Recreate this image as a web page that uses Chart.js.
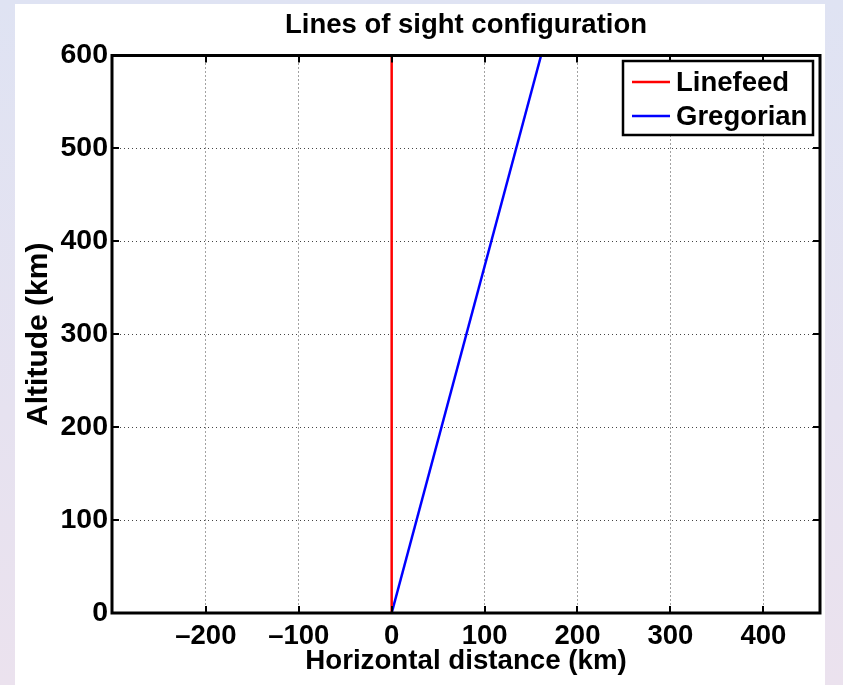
<!DOCTYPE html>
<html>
<head>
<meta charset="utf-8">
<script src="https://cdn.jsdelivr.net/npm/chart.js@4/dist/chart.umd.min.js"></script>
<style>
  html, body { margin: 0; padding: 0; }
  body {
    width: 843px; height: 685px; overflow: hidden;
    background: linear-gradient(180deg, #dfe3f3 0%, #e6e2f0 60%, #ebe2ee 100%);
    position: relative;
  }
  #panel {
    position: absolute; left: 15px; top: 4px;
    width: 810px; height: 681px; background: #fff;
  }
</style>
</head>
<body>
<div id="panel"><canvas id="losChart" width="810" height="681"></canvas></div>
<script>
// lines of sight: altitude vs horizontal offset
var altitude = [0, 600];
var linefeedX = [0, 0];
var gregorianX = [0, 160.8];

var seriesLabels = ['Linefeed', 'Gregorian'];
var seriesColors = ['#ff0000', '#0000ff'];

var xTicks = [-200, -100, 0, 100, 200, 300, 400];
var yTicks = [0, 100, 200, 300, 400, 500, 600];

var FONT = 'Liberation Sans, Arial, Helvetica, sans-serif';

function pts(xs, ys) {
    var out = [];
    for (var i = 0; i < xs.length; i++) out.push({ x: xs[i], y: ys[i] });
    return out;
}

// box round the axes + inward tick marks + legend in the top-right corner
var matlabFrame = {
    id: 'matlabFrame',
    afterDraw: function (chart) {
        var ctx = chart.ctx;
        var a = chart.chartArea;
        var xs = chart.scales.x, ys = chart.scales.y;
        ctx.save();

        // tick marks, pointing inwards
        ctx.strokeStyle = '#000';
        ctx.lineWidth = 2;
        var tl = 7;
        xTicks.forEach(function (v) {
            var px = Math.round(xs.getPixelForValue(v));
            ctx.beginPath();
            ctx.moveTo(px, a.bottom); ctx.lineTo(px, a.bottom - tl);
            ctx.moveTo(px, a.top); ctx.lineTo(px, a.top + tl);
            ctx.stroke();
        });
        yTicks.forEach(function (v) {
            var py = Math.round(ys.getPixelForValue(v));
            ctx.beginPath();
            ctx.moveTo(a.left, py); ctx.lineTo(a.left + tl, py);
            ctx.moveTo(a.right, py); ctx.lineTo(a.right - tl, py);
            ctx.stroke();
        });

        // frame
        ctx.lineWidth = 3;
        ctx.strokeRect(a.left, a.top, a.right - a.left, a.bottom - a.top);

        // legend
        var lw = 190, lh = 74;
        var lx = a.right - 7 - lw, ly = a.top + 5.5;
        ctx.fillStyle = '#fff';
        ctx.fillRect(lx, ly, lw, lh);
        ctx.lineWidth = 2.5;
        ctx.strokeRect(lx, ly, lw, lh);
        ctx.font = 'bold 27.5px ' + FONT;
        ctx.textBaseline = 'middle';
        chart.data.datasets.forEach(function (ds, i) {
            var cy = ly + 21 + i * 34;
            ctx.strokeStyle = ds.borderColor;
            ctx.lineWidth = 2.5;
            ctx.beginPath();
            ctx.moveTo(lx + 9, cy); ctx.lineTo(lx + 47, cy);
            ctx.stroke();
            ctx.fillStyle = '#000';
            ctx.fillText(ds.label, lx + 53, cy + 1);
        });
        ctx.restore();
    }
};

var ctx = document.getElementById('losChart');

new Chart(ctx, {
    type: 'scatter',
    data: {
        datasets: [
            {
                label: seriesLabels[0],
                data: pts(linefeedX, altitude),
                showLine: true,
                borderColor: seriesColors[0],
                borderWidth: 2.5,
                pointRadius: 0
            },
            {
                label: seriesLabels[1],
                data: pts(gregorianX, altitude),
                showLine: true,
                borderColor: seriesColors[1],
                borderWidth: 2.5,
                pointRadius: 0
            }
        ]
    },
    options: {
        responsive: false,
        animation: false,
        devicePixelRatio: 1,
        layout: { padding: { left: 0, right: 5, top: 0, bottom: 0 } },
        plugins: {
            legend: { display: false },
            tooltip: { enabled: false },
            title: {
                display: true,
                fullSize: false,
                text: 'Lines of sight configuration',
                color: '#000',
                font: { family: FONT, size: 27.5, weight: 'bold', lineHeight: 1.2 },
                padding: { top: 5, bottom: 13.5 }
            }
        },
        scales: {
            x: {
                type: 'linear',
                min: -301,
                max: 461,
                afterBuildTicks: function (s) {
                    s.ticks = xTicks.map(function (v) { return { value: v }; });
                },
                afterFit: function (s) { s.height = 72; },
                ticks: {
                    color: '#000',
                    padding: 7,
                    maxRotation: 0,
                    font: { family: FONT, size: 27.5, weight: 'bold' },
                    callback: function (v) { return v < 0 ? '\u2013' + Math.abs(v) : String(v); }
                },
                grid: { color: '#444', lineWidth: 1, drawTicks: false },
                border: { display: false, dash: [1, 3] },
                title: {
                    display: true,
                    text: 'Horizontal distance (km)',
                    color: '#000',
                    font: { family: FONT, size: 27.7, weight: 'bold', lineHeight: 1.2 },
                    padding: { top: 0, bottom: 7.4 }
                }
            },
            y: {
                type: 'linear',
                min: 0,
                max: 600,
                afterBuildTicks: function (s) {
                    s.ticks = yTicks.map(function (v) { return { value: v }; });
                },
                afterFit: function (s) { s.width = 97; },
                ticks: {
                    color: '#000',
                    padding: 4,
                    font: { family: FONT, size: 28.5, weight: 'bold' }
                },
                grid: { color: '#444', lineWidth: 1, drawTicks: false },
                border: { display: false, dash: [1, 3] },
                title: {
                    display: true,
                    text: 'Altitude (km)',
                    color: '#000',
                    font: { family: FONT, size: 30, weight: 'bold', lineHeight: 1.2 },
                    padding: { top: 6, bottom: 0 }
                }
            }
        }
    },
    plugins: [matlabFrame]
});
</script>
</body>
</html>
